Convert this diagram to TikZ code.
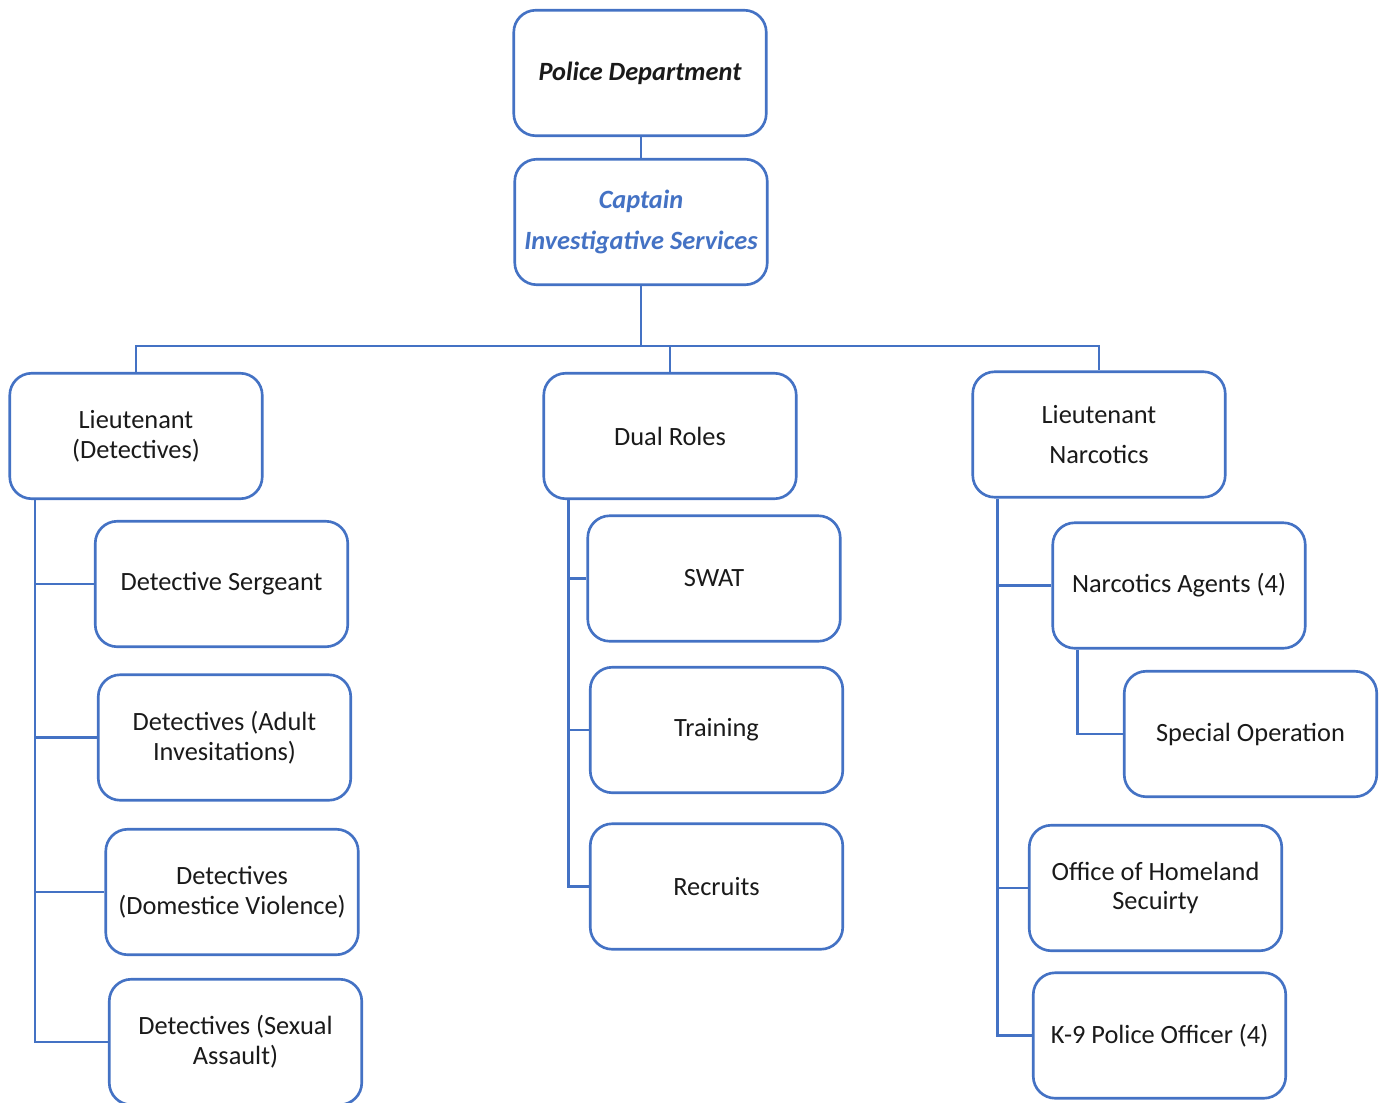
\documentclass[tikz,border=0pt]{standalone}
\usepackage{fontspec}
\setmainfont{Carlito}
\definecolor{boxblue}{HTML}{4472C4}
\definecolor{boxtext}{HTML}{1A1A1A}

\begin{document}
\begin{tikzpicture}[
        unit/.style={rectangle, draw=boxblue, line width=1.5pt, fill=white, rounded corners=0.44cm,
            minimum width=5.05cm, minimum height=2.51cm, align=center, text=boxtext,
            font=\fontsize{15}{17}\selectfont},
        head/.style={unit, font=\fontsize{15}{17}\selectfont\bfseries\itshape},
        link/.style={draw=boxblue, line width=1.6pt}
    ]
        \useasboundingbox (0,0) rectangle (27.70,-22.06);

        % Top of the chart
        \node[head] (dept) at (12.80,-1.46) {Police Department};
        \node[head, text=boxblue] (captain) at (12.82,-4.44) {Captain\\[6pt]Investigative Services};

        % Second level
        \node[unit] (ltdet) at (2.72,-8.72) {Lieutenant\\(Detectives)};
        \node[unit] (dual) at (13.40,-8.72) {Dual Roles};
        \node[unit] (ltnarc) at (21.98,-8.69) {Lieutenant\\[6pt]Narcotics};

        % Detectives branch
        \node[unit] (sergeant) at (4.43,-11.68) {Detective Sergeant};
        \node[unit] (adult) at (4.49,-14.75) {Detectives (Adult\\Invesitations)};
        \node[unit] (domestic) at (4.64,-17.84) {Detectives\\(Domestice Violence)};
        \node[unit] (sexual) at (4.71,-20.84) {Detectives (Sexual\\Assault)};

        % Dual roles branch
        \node[unit] (swat) at (14.28,-11.57) {SWAT};
        \node[unit] (training) at (14.33,-14.60) {Training};
        \node[unit] (recruits) at (14.33,-17.73) {Recruits};

        % Narcotics branch
        \node[unit] (agents) at (23.58,-11.71) {Narcotics Agents (4)};
        \node[unit] (special) at (25.01,-14.68) {Special Operation};
        \node[unit] (homeland) at (23.11,-17.76) {Office of Homeland\\Secuirty};
        \node[unit] (canine) at (23.19,-20.71) {K-9 Police Officer (4)};

        % Top connections
        \coordinate (bus) at (12.82,-6.92);
        \draw[link] (captain.north) -- (captain.north |- dept.south);
        \draw[link] (captain) -- (bus);
        \foreach \n in {ltdet,dual,ltnarc}
            \draw[link] (bus) -| (\n);

        % Spines down each branch
        \coordinate (detspine) at ([xshift=0.53cm]ltdet.south west);
        \coordinate (dualspine) at ([xshift=0.52cm]dual.south west);
        \coordinate (narcspine) at ([xshift=0.52cm]ltnarc.south west);
        \draw[link] (detspine) |- (sexual.west);
        \foreach \n in {sergeant,adult,domestic}
            \draw[link] (detspine |- \n.west) -- (\n.west);
        \draw[link] (dualspine) |- (recruits.west);
        \foreach \n in {swat,training}
            \draw[link] (dualspine |- \n.west) -- (\n.west);
        \draw[link] (narcspine) |- (canine.west);
        \foreach \n in {agents,homeland}
            \draw[link] (narcspine |- \n.west) -- (\n.west);
        \draw[link] ([xshift=0.52cm]agents.south west) |- (special.west);

    \end{tikzpicture}
\end{document}
